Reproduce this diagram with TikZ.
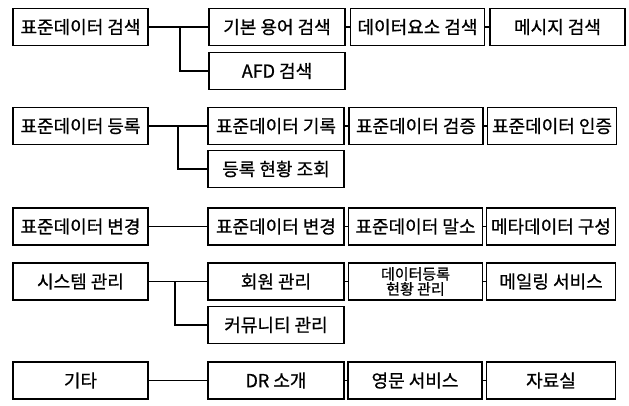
\documentclass[tikz,border=0pt]{standalone}
\usepackage{fontspec}
\setmainfont{Noto Sans CJK KR}[FakeBold=0.8]
\begin{document}
\begin{tikzpicture}[x=1pt,y=-1pt,
  box/.style={draw=black,line width=1.8pt,inner sep=0pt,minimum height=37pt,font=\fontsize{18}{18}\selectfont},
  lbox/.style={box,minimum width=135pt},
  cone/.style={box,minimum width=136pt},
  ctwo/.style={box,minimum width=134pt},
  cthree/.style={box,minimum width=129pt},
  link/.style={line width=1.4pt}]
\useasboundingbox (0,0) rectangle (629,405);
% Row 1
\node[lbox] (s1) at (80.5,27) {표준데이터 검색};
\node[cone] (s1a) at (277,27) {기본 용어 검색};
\node[ctwo] (s1b) at (417.5,27) {데이터요소 검색};
\node[box,minimum width=135pt] (s1c) at (557.5,27) {메시지 검색};
\node[cone] (s1d) at (277,71) {AFD 검색};
\coordinate (b1) at (180,27);
\draw[link] (s1.east) -- (s1a.west);
\draw[link] (b1) |- (s1d.west);
\draw[link] (s1a.east) -- (s1b.west);
\draw[link] (s1b.east) -- (s1c.west);
% Row 2
\node[lbox] (s2) at (80.5,126) {표준데이터 등록};
\node[cone] (s2a) at (276,126) {표준데이터 기록};
\node[ctwo] (s2b) at (416,126) {표준데이터 검증};
\node[cthree] (s2c) at (552,126) {표준데이터 인증};
\node[cone] (s2d) at (276,169) {등록 현황 조회};
\coordinate (b2) at (178,126);
\draw[link] (s2.east) -- (s2a.west);
\draw[link] (b2) |- (s2d.west);
\draw[link] (s2a.east) -- (s2b.west);
\draw[link] (s2b.east) -- (s2c.west);
% Row 3
\node[lbox] (s3) at (80.5,226.5) {표준데이터 변경};
\node[cone] (s3a) at (276,226.5) {표준데이터 변경};
\node[ctwo] (s3b) at (415.5,226.5) {표준데이터 말소};
\node[cthree] (s3c) at (551,226.5) {메타데이터 구성};
\draw[link] (s3.east) -- (s3a.west);
\draw[link] (s3a.east) -- (s3b.west);
\draw[link] (s3b.east) -- (s3c.west);
% Row 4
\node[lbox] (s4) at (80.5,281.5) {시스템 관리};
\node[cone] (s4a) at (276,281.5) {회원 관리};
\node[ctwo,align=center,font=\fontsize{15}{15}\selectfont] (s4b) at (415.5,281.5) {데이터등록\\현황 관리};
\node[cthree] (s4c) at (551,281.5) {메일링 서비스};
\node[cone] (s4d) at (276,325) {커뮤니티 관리};
\coordinate (b4) at (175,281.5);
\draw[link] (s4.east) -- (s4a.west);
\draw[link] (b4) |- (s4d.west);
\draw[link] (s4a.east) -- (s4b.west);
\draw[link] (s4b.east) -- (s4c.west);
% Row 5
\node[lbox] (s5) at (80.5,380.5) {기타};
\node[cone] (s5a) at (276,380.5) {DR 소개};
\node[ctwo] (s5b) at (415,380.5) {영문 서비스};
\node[cthree] (s5c) at (551,380.5) {자료실};
\draw[link] (s5.east) -- (s5a.west);
\draw[link] (s5a.east) -- (s5b.west);
\draw[link] (s5b.east) -- (s5c.west);
\end{tikzpicture}
\end{document}
